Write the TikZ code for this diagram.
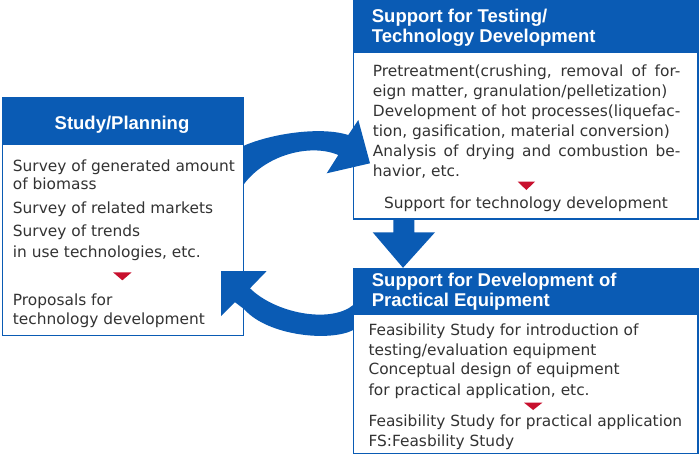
\documentclass[tikz,border=0pt]{standalone}
\usepackage{fontspec}
\setmainfont{DejaVu Sans}
\newfontfamily\hdfont{Liberation Sans}
\definecolor{mblue}{HTML}{0A5BB4}
\definecolor{mred}{HTML}{C8102E}
\definecolor{mtext}{HTML}{333333}
\newcommand{\justline}[1]{{\spaceskip=0.318em plus 2em minus 0.08em\relax\hbox to 307.5pt{#1}}}
\begin{document}
\begin{tikzpicture}[x=1pt,y=-1pt,
  body/.style={anchor=base west, inner sep=0pt, text=mtext, font=\fontsize{15.4pt}{18pt}\selectfont},
  head/.style={anchor=base west, inner sep=0pt, text=white, font=\hdfont\bfseries\fontsize{18.5pt}{22pt}\selectfont},
  frame/.style={draw=mblue, line width=1.3pt, fill=white, inner sep=0pt, outer sep=0pt, anchor=north west},
  headbar/.style={fill=mblue, inner sep=0pt, outer sep=0pt, anchor=north west},
  marker/.style={fill=mred},
  flow/.style={fill=mblue}]
\useasboundingbox (0,0) rectangle (700,455);

% boxes
\node[frame, minimum width=241pt, minimum height=237.5pt] (plan) at (2.5,98) {};
\node[headbar, minimum width=242.3pt, minimum height=47pt] (planhead) at (1.85,97.5) {};
\node[frame, minimum width=344.5pt, minimum height=218.5pt] (test) at (353.5,0.5) {};
\node[headbar, minimum width=345.8pt, minimum height=53.3pt] (testhead) at (352.85,0) {};
\node[frame, minimum width=344.5pt, minimum height=185pt] (prac) at (353.5,268.3) {};
\node[headbar, minimum width=345.8pt, minimum height=47pt] (prachead) at (352.85,268) {};

% cycle arrows
\fill[flow] (243.3,146) .. controls (270,134) and (320,126) .. (348.3,135)
  -- (358.3,120) -- (370,163.3) -- (326.7,173.3) -- (338.3,155)
  .. controls (310,143) and (265,155) .. (243.3,185) -- cycle;
\fill[flow] (221,271) -- (266.7,271) -- (250,288.3)
  .. controls (275,313) and (330,324) .. (353.3,305) -- (353.3,330)
  .. controls (330,342) and (268,336) .. (244.3,309.3)
  -- (235,302.2) -- (221,316) -- cycle;
\fill[flow] (393.3,219) -- (414.3,219) -- (414.3,232.3) -- (435,232.3)
  -- (403,267.8) -- (372.7,232.3) -- (393.3,232.3) -- cycle;

% red markers
\fill[marker] (113,272.3) -- (131.7,272.3) -- (122.35,280.3) -- cycle;
\fill[marker] (517.7,181.7) -- (535,181.7) -- (526.35,190) -- cycle;
\fill[marker] (524,402.7) -- (542.3,402.7) -- (533.15,410) -- cycle;

% left box text
\node[head, anchor=base] (lh) at (122,129.3) {Study/Planning};
\node[body] (p1) at (12.7,171) {Survey of generated amount};
\node[body] (p2) at (12.7,189.3) {of biomass};
\node[body] (p3) at (12.7,213.3) {Survey of related markets};
\node[body] (p4) at (12.7,236.7) {Survey of trends};
\node[body] (p5) at (12.7,257.5) {in use technologies, etc.};
\node[body] (p6) at (12.7,305) {Proposals for};
\node[body] (p7) at (12.7,324.7) {technology development};

% top right text
\node[head] (th1) at (371.7,22.7) {Support for Testing/};
\node[head] (th2) at (371.7,42.3) {Technology Development};
\node[body] (t1) at (372.7,76.7) {\justline{Pretreatment(crushing, removal of for-}};
\node[body] (t2) at (372.7,96.7) {eign matter, granulation/pelletization)};
\node[body] (t3) at (372.7,116.7) {\justline{Development of hot processes(liquefac-}};
\node[body] (t4) at (372.7,136.7) {tion, gasification, material conversion)};
\node[body] (t5) at (372.7,156.7) {\justline{Analysis of drying and combustion be-}};
\node[body] (t6) at (372.7,176.7) {havior, etc.};
\node[body, anchor=base] (t7) at (526,208.3) {Support for technology development};

% bottom right text
\node[head] (bh1) at (371.7,286.7) {Support for Development of};
\node[head] (bh2) at (371.7,306.7) {Practical Equipment};
\node[body] (b1) at (368.3,335) {Feasibility Study for introduction of};
\node[body] (b2) at (368.3,355) {testing/evaluation equipment};
\node[body] (b3) at (368.3,374.7) {Conceptual design of equipment};
\node[body] (b4) at (368.3,395) {for practical application, etc.};
\node[body] (b5) at (368.3,426.7) {Feasibility Study for practical application};
\node[body] (b6) at (368.3,446) {FS:Feasbility Study};
\end{tikzpicture}
\end{document}
